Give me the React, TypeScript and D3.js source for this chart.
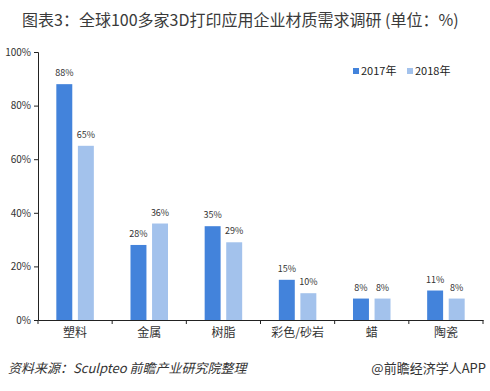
import React, { useEffect, useRef } from 'react';
import * as d3 from 'd3';

const categories = ['塑料', '金属', '树脂', '彩色/砂岩', '蜡', '陶瓷'];
const series2017 = [88, 28, 35, 15, 8, 11];
const series2018 = [65, 36, 29, 10, 8, 8];
const seriesNames = ['2017年', '2018年'];
const yTicks = [0, 20, 40, 60, 80, 100];
const colors = ['#4383DB', '#A3C2EC'];

const App = () => {
  const svgRef = useRef<SVGSVGElement>(null);

  useEffect(() => {
    const svg = d3.select(svgRef.current);
    const width = 490;
    const height = 391;
    const margin = { left: 38, right: 7, top: 52, bottom: 71 };
    const font = '"Noto Sans CJK SC", "Liberation Sans", sans-serif';

    svg.append('rect').attr('width', width).attr('height', height).attr('fill', '#fff');

    const x = d3
      .scaleBand()
      .domain(categories)
      .range([margin.left, width - margin.right]);

    const y = d3
      .scaleLinear()
      .domain([0, 100])
      .range([height - margin.bottom, margin.top]);

    // title
    svg
      .append('text')
      .attr('x', 22)
      .attr('y', 26)
      .attr('font-family', font)
      .attr('font-size', 16)
      .attr('fill', '#3a3a3a')
      .text('图表3：全球100多家3D打印应用企业材质需求调研 (单位：%)');

    // y axis
    const yAxis = svg
      .append('g')
      .attr('transform', `translate(${margin.left},0)`)
      .call(
        d3
          .axisLeft(y)
          .tickValues(yTicks)
          .tickSize(4)
          .tickFormat((d) => `${d}%`)
      );
    yAxis.select('.domain').attr('stroke', '#222');
    yAxis.selectAll('line').attr('stroke', '#222');
    yAxis
      .selectAll('text')
      .attr('font-family', font)
      .attr('font-size', 10)
      .attr('fill', '#333');

    // x axis
    const xAxis = svg
      .append('g')
      .attr('transform', `translate(0,${y(0)})`)
      .call(d3.axisBottom(x).tickSize(0).tickSizeOuter(0));
    xAxis.select('.domain').attr('stroke', '#222');
    xAxis
      .selectAll('text')
      .attr('dy', 14)
      .attr('font-family', font)
      .attr('font-size', 12)
      .attr('fill', '#333');
    const bounds = [...categories.map((c) => x(c) as number), width - margin.right];
    svg
      .append('g')
      .selectAll('line')
      .data(bounds)
      .enter()
      .append('line')
      .attr('x1', (d) => d)
      .attr('x2', (d) => d)
      .attr('y1', y(0))
      .attr('y2', y(0) + 4)
      .attr('stroke', '#222');

    const inner = d3
      .scaleBand()
      .domain(seriesNames)
      .range([0, x.bandwidth()])
      .paddingInner(0.26)
      .paddingOuter(0.85);

    const allSeries = [series2017, series2018];
    allSeries.forEach((vals, si) => {
      const g = svg.append('g');
      g.selectAll('rect')
        .data(vals)
        .enter()
        .append('rect')
        .attr('x', (d, i) => (x(categories[i]) as number) + (inner(seriesNames[si]) as number))
        .attr('y', (d) => y(d))
        .attr('width', inner.bandwidth())
        .attr('height', (d) => y(0) - y(d))
        .attr('fill', colors[si]);
      g.selectAll('text')
        .data(vals)
        .enter()
        .append('text')
        .attr('x', (d, i) => (x(categories[i]) as number) + (inner(seriesNames[si]) as number) + inner.bandwidth() / 2)
        .attr('y', (d) => y(d) - 8)
        .attr('text-anchor', 'middle')
        .attr('font-family', font)
        .attr('font-size', 9)
        .attr('fill', '#333')
        .text((d) => `${d}%`);
    });

    // legend
    const legendX = [353, 407];
    seriesNames.forEach((name, i) => {
      svg
        .append('rect')
        .attr('x', legendX[i])
        .attr('y', 68)
        .attr('width', 6)
        .attr('height', 6)
        .attr('fill', colors[i]);
      svg
        .append('text')
        .attr('x', legendX[i] + 8)
        .attr('y', 75)
        .attr('font-family', font)
        .attr('font-size', 11)
        .attr('fill', '#222')
        .text(name);
    });

    // footer
    svg
      .append('text')
      .attr('x', 8)
      .attr('y', 373)
      .attr('font-family', font)
      .attr('font-size', 13)
      .attr('font-style', 'italic')
      .attr('fill', '#333')
      .text('资料来源：Sculpteo 前瞻产业研究院整理');
    svg
      .append('text')
      .attr('x', 486)
      .attr('y', 373)
      .attr('text-anchor', 'end')
      .attr('font-family', font)
      .attr('font-size', 13)
      .attr('fill', '#333')
      .text('@前瞻经济学人APP');

    return () => {
      svg.selectAll('*').remove();
    };
  }, []);

  return (
    <svg
      ref={svgRef}
      width={490}
      height={391}
      style={{ position: 'absolute', left: 0, top: 0 }}
    ></svg>
  );
};

export default App;
